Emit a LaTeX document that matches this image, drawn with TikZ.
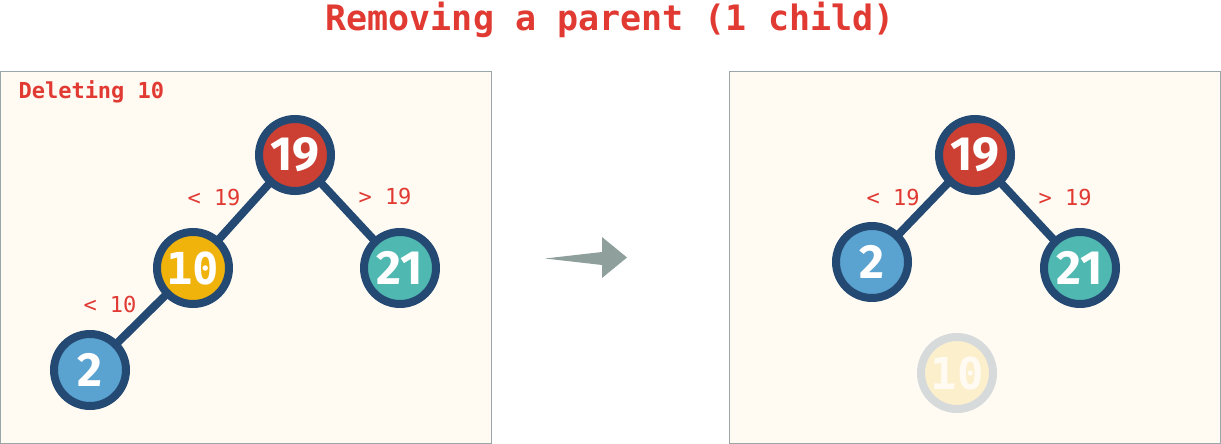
\documentclass[tikz,border=0pt]{standalone}
\usepackage{fontspec}
\setmainfont{Fira Sans}
\setmonofont{DejaVu Sans Mono}
\usepackage{tikz}
\usetikzlibrary{positioning}

\definecolor{panelfill}{HTML}{FFFBF3}
\definecolor{panelline}{HTML}{9AA6A8}
\definecolor{treeline}{HTML}{244A73}
\definecolor{redfill}{HTML}{CC3F33}
\definecolor{yellowfill}{HTML}{F0B30C}
\definecolor{tealfill}{HTML}{4FB8B1}
\definecolor{bluefill}{HTML}{5AA2CF}
\definecolor{labelred}{HTML}{E03A33}
\definecolor{arrowgray}{HTML}{8FA09C}
\definecolor{fadeline}{HTML}{D6DADB}
\definecolor{fadefill}{HTML}{FCEFCC}

\tikzset{
	panel/.style={
		draw=panelline, fill=panelfill, line width=1pt
	},
	treenode/.style={
		circle, draw=treeline, line width=8pt, minimum size=72pt,
		inner sep=0pt, text=white,
		font=\fontsize{48}{48}\selectfont\bfseries
	},
	treeedge/.style={
		draw=treeline, line width=8pt, shorten <=-4pt, shorten >=-4pt
	},
	bound/.style={
		text=labelred, font=\fontsize{22}{22}\selectfont\ttfamily
	},
	faded/.style={
		treenode, draw=fadeline, fill=fadefill, text=panelfill
	}
}

\begin{document}
\begin{tikzpicture}[x=1pt,y=-1pt]
	\useasboundingbox (0,0) rectangle (1221,444);

	% title
	\node[text=labelred, font=\fontsize{35}{35}\selectfont\ttfamily\bfseries]
		(title) at (610,20) {Removing a parent (1 child)};

	% panels
	\draw[panel] (0.5,72) rectangle (491,443);
	\draw[panel] (729.5,72) rectangle (1220.5,443);
	\node[anchor=west, text=labelred, font=\fontsize{22}{22}\selectfont\ttfamily\bfseries]
		(caption) at (15,92) {Deleting 10};

	% tree before
	\node[treenode, fill=redfill]    (a19) at (295,155) {19};
	\node[treenode, fill=yellowfill] (a10) at (193,268) {\ttfamily\fontsize{44}{44}\selectfont 10};
	\node[treenode, fill=tealfill]   (a21) at (400,268) {21};
	\node[treenode, fill=bluefill]   (a2)  at (90,370)  {2};

	\draw[treeedge] (a19) -- (a10);
	\draw[treeedge] (a19) -- (a21);
	\draw[treeedge] (a10) -- (a2);

	\node[bound] (la19) at (214,197) {< 19};
	\node[bound] (ra19) at (385,196) {> 19};
	\node[bound] (la10) at (110,304) {< 10};

	% arrow
	\coordinate (tail) at (545,258.5);
	\coordinate (tip)  at (627,257.5);
	\fill[arrowgray] (tail) -- (602,252) -- (602,237) -- (tip)
		-- (602,278) -- (602,265) -- cycle;

	% tree after
	\node[treenode, fill=redfill]  (b19) at (975,155) {19};
	\node[treenode, fill=bluefill] (b2)  at (872,262) {2};
	\node[treenode, fill=tealfill] (b21) at (1080,268) {21};
	\node[faded] (b10) at (957,373) {\ttfamily\fontsize{44}{44}\selectfont 10};

	\draw[treeedge] (b19) -- (b2);
	\draw[treeedge] (b19) -- (b21);

	\node[bound] (lb19) at (893,197) {< 19};
	\node[bound] (rb19) at (1065,197) {> 19};
\end{tikzpicture}
\end{document}
